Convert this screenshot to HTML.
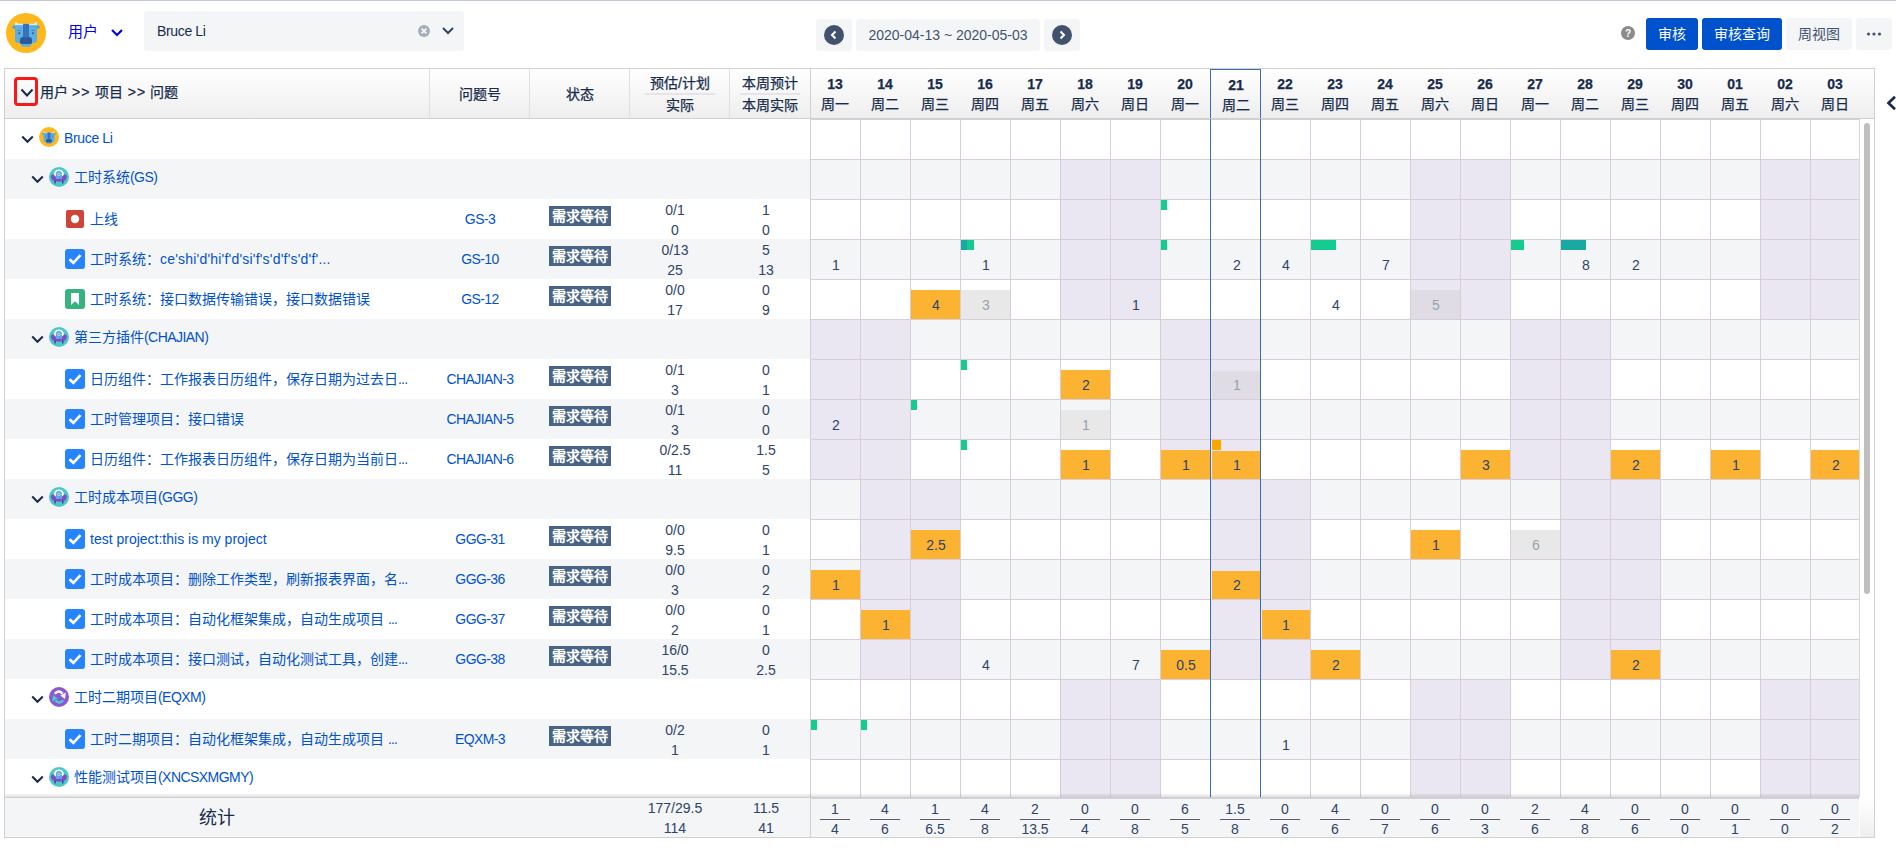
<!DOCTYPE html><html lang="zh-CN"><head><meta charset="utf-8"><style>
*{box-sizing:border-box}
body{margin:0;width:1896px;height:854px;overflow:hidden;background:#fff;font-family:"Liberation Sans",sans-serif;font-size:14px;color:#172B4D;position:relative}
.ab{position:absolute}
.t{position:absolute;white-space:nowrap;line-height:20px}
.c{text-align:center}
.hd{font-weight:500;color:#172B4D;-webkit-text-stroke:0.25px}
.lk{color:#0052CC}
.num{color:#2E4369}
</style></head><body>

<div class="ab" style="left:0;top:0;width:1896px;height:1px;background:#C1C7D0"></div>
<div class="ab" style="left:6px;top:13px;width:40px;height:40px"><svg width="40" height="40" viewBox="0 0 40 40"><circle cx="20" cy="20" r="20" fill="#FFB81C"/><path d="M9 8.5 L12.5 10.8 H27.5 L31 8.5 V12.8 H9 Z" fill="#D4ECF9"/><path d="M6 14.2 L7.5 12.6 H32.5 L34 14.2 L32.5 15.7 H7.5 Z" fill="#4A9FE0"/><path d="M9 12.6 H31 V27 Q31 30 28 30 H25 V32 Q25 33.7 23 33.7 H17 Q15 33.7 15 32 V30 H12 Q9 30 9 27 Z" fill="#5DAEE3"/><rect x="17" y="10.8" width="6" height="16" fill="#3673B8"/><circle cx="17.2" cy="27.3" r="3.2" fill="#2A5A9A"/><circle cx="22.8" cy="27.3" r="3.2" fill="#2A5A9A"/><path d="M14 27.3 H26 V29.5 Q26 31 24.5 31 H15.5 Q14 31 14 29.5 Z" fill="#2A5A9A"/><circle cx="13.3" cy="20.2" r="1" fill="#2A5A9A"/><circle cx="27" cy="20.2" r="1" fill="#2A5A9A"/><rect x="11.7" y="17" width="3" height="0.8" fill="#3A7BC0"/><rect x="25.6" y="17" width="3" height="0.8" fill="#3A7BC0"/></svg></div>
<div class="t" style="left:68px;top:22px;font-size:15px;color:#0000EE;line-height:20px">用户</div>
<svg class="ab" style="left:110px;top:28px" width="14" height="10" viewBox="0 0 14 10"><path d="M2 2 L7 7 L12 2" stroke="#0000EE" stroke-width="2.2" fill="none"/></svg>
<div class="ab" style="left:144px;top:11px;width:320px;height:40px;border-radius:3px;background:#F4F5F7"></div>
<div class="t" style="left:157px;top:21px;font-size:14px;letter-spacing:-0.35px;color:#172B4D">Bruce Li</div>
<svg class="ab" style="left:417px;top:24px" width="14" height="14" viewBox="0 0 14 14"><circle cx="7" cy="7" r="6" fill="#A5ADBA"/><path d="M4.6 4.6 L9.4 9.4 M9.4 4.6 L4.6 9.4" stroke="#F4F5F7" stroke-width="1.8"/></svg>
<svg class="ab" style="left:441px;top:26px" width="14" height="10" viewBox="0 0 14 10"><path d="M2 2 L7 7 L12 2" stroke="#344563" stroke-width="2" fill="none"/></svg>
<div class="ab" style="left:816px;top:19px;width:36px;height:32px;border-radius:3px;background:#F4F5F7"></div>
<svg class="ab" style="left:824px;top:25px" width="20" height="20" viewBox="0 0 20 20"><circle cx="10" cy="10" r="10" fill="#42526E"/><path d="M11.5 6.5 L8 10 L11.5 13.5" stroke="#fff" stroke-width="2" fill="none"/></svg>
<div class="ab" style="left:856px;top:19px;width:184px;height:32px;border-radius:3px;background:#F4F5F7"></div>
<div class="t" style="left:856px;width:184px;top:25px;text-align:center;font-size:14px;color:#42526E">2020-04-13 ~ 2020-05-03</div>
<div class="ab" style="left:1044px;top:19px;width:36px;height:32px;border-radius:3px;background:#F4F5F7"></div>
<svg class="ab" style="left:1052px;top:25px" width="20" height="20" viewBox="0 0 20 20"><circle cx="10" cy="10" r="10" fill="#42526E"/><path d="M8.5 6.5 L12 10 L8.5 13.5" stroke="#fff" stroke-width="2" fill="none"/></svg>
<svg class="ab" style="left:1621px;top:26px" width="14" height="14" viewBox="0 0 14 14"><circle cx="7" cy="7" r="7" fill="#8B8B8B"/><text x="7" y="11" font-size="10" font-weight="bold" text-anchor="middle" fill="#fff" font-family="Liberation Sans">?</text></svg>
<div class="ab" style="left:1646px;top:18px;width:52px;height:32px;border-radius:3px;background:#0052CC"></div>
<div class="t c" style="left:1646px;width:52px;top:24px;color:#fff;font-size:14px;font-weight:500">审核</div>
<div class="ab" style="left:1702px;top:18px;width:80px;height:32px;border-radius:3px;background:#0052CC"></div>
<div class="t c" style="left:1702px;width:80px;top:24px;color:#fff;font-size:14px;font-weight:500">审核查询</div>
<div class="ab" style="left:1786px;top:18px;width:66px;height:32px;border-radius:3px;background:#F4F5F7"></div>
<div class="t c" style="left:1786px;width:66px;top:24px;color:#42526E;font-size:14px">周视图</div>
<div class="ab" style="left:1856px;top:18px;width:36px;height:32px;border-radius:3px;background:#F4F5F7"></div>
<svg class="ab" style="left:1866px;top:32px" width="16" height="4" viewBox="0 0 16 4"><circle cx="2.5" cy="2" r="1.6" fill="#42526E"/><circle cx="8" cy="2" r="1.6" fill="#42526E"/><circle cx="13.5" cy="2" r="1.6" fill="#42526E"/></svg>
<div class="ab" style="left:4px;top:68px;width:1871px;height:770px;border:1px solid #D0D0D0"></div>
<div class="ab" style="left:5px;top:69px;width:1869px;height:49px;background:linear-gradient(#FFFFFF,#EEEEEE)"></div>
<div class="ab" style="left:5px;top:118px;width:1869px;height:1px;background:#D0D0D0"></div>
<div class="ab" style="left:5px;top:119px;width:805px;height:40px;background:#FFFFFF"></div>
<div class="ab" style="left:5px;top:159px;width:805px;height:40px;background:#F4F5F7"></div>
<div class="ab" style="left:5px;top:199px;width:805px;height:40px;background:#FFFFFF"></div>
<div class="ab" style="left:5px;top:239px;width:805px;height:40px;background:#F4F5F7"></div>
<div class="ab" style="left:5px;top:279px;width:805px;height:40px;background:#FFFFFF"></div>
<div class="ab" style="left:5px;top:319px;width:805px;height:40px;background:#F4F5F7"></div>
<div class="ab" style="left:5px;top:359px;width:805px;height:40px;background:#FFFFFF"></div>
<div class="ab" style="left:5px;top:399px;width:805px;height:40px;background:#F4F5F7"></div>
<div class="ab" style="left:5px;top:439px;width:805px;height:40px;background:#FFFFFF"></div>
<div class="ab" style="left:5px;top:479px;width:805px;height:40px;background:#F4F5F7"></div>
<div class="ab" style="left:5px;top:519px;width:805px;height:40px;background:#FFFFFF"></div>
<div class="ab" style="left:5px;top:559px;width:805px;height:40px;background:#F4F5F7"></div>
<div class="ab" style="left:5px;top:599px;width:805px;height:40px;background:#FFFFFF"></div>
<div class="ab" style="left:5px;top:639px;width:805px;height:40px;background:#F4F5F7"></div>
<div class="ab" style="left:5px;top:679px;width:805px;height:40px;background:#FFFFFF"></div>
<div class="ab" style="left:5px;top:719px;width:805px;height:40px;background:#F4F5F7"></div>
<div class="ab" style="left:5px;top:759px;width:805px;height:38px;background:#FFFFFF"></div>
<div class="ab" style="left:429px;top:69px;width:1px;height:49px;background:#DFDDE8"></div>
<div class="ab" style="left:529px;top:69px;width:1px;height:49px;background:#DFDDE8"></div>
<div class="ab" style="left:629px;top:69px;width:1px;height:49px;background:#DFDDE8"></div>
<div class="ab" style="left:729px;top:69px;width:1px;height:49px;background:#DFDDE8"></div>
<div class="ab" style="left:810px;top:69px;width:1px;height:768px;background:#D0D0D0"></div>
<div class="ab" style="left:14px;top:77px;width:24px;height:29px;border:3px solid #F81A1A;border-radius:4px"></div>
<svg class="ab" style="left:20px;top:88px" width="14" height="10" viewBox="0 0 14 10"><path d="M1.5 1.5 L7 7.5 L12.5 1.5" stroke="#172B4D" stroke-width="2" fill="none"/></svg>
<div class="t hd" style="left:40px;top:82px">用户 <span style="font-weight:normal;letter-spacing:1.3px">&gt;&gt;</span> 项目 <span style="font-weight:normal;letter-spacing:1.3px;margin-left:1px">&gt;&gt;</span> 问题</div>
<div class="t hd c" style="left:430px;width:100px;top:84px">问题号</div>
<div class="t hd c" style="left:530px;width:100px;top:84px">状态</div>
<div class="t hd c" style="left:630px;width:100px;top:73px">预估/计划</div>
<div class="ab" style="left:645px;top:93px;width:70px;height:2px;background:#E4E4EA"></div>
<div class="t hd c" style="left:630px;width:100px;top:95px">实际</div>
<div class="t hd c" style="left:730px;width:80px;top:73px">本周预计</div>
<div class="ab" style="left:740px;top:93px;width:60px;height:2px;background:#E4E4EA"></div>
<div class="t hd c" style="left:730px;width:80px;top:95px">本周实际</div>
<div class="t hd c" style="left:810px;width:50px;top:74px;font-size:14px;font-weight:bold">13</div>
<div class="t hd c" style="left:810px;width:50px;top:94px">周一</div>
<div class="t hd c" style="left:860px;width:50px;top:74px;font-size:14px;font-weight:bold">14</div>
<div class="t hd c" style="left:860px;width:50px;top:94px">周二</div>
<div class="t hd c" style="left:910px;width:50px;top:74px;font-size:14px;font-weight:bold">15</div>
<div class="t hd c" style="left:910px;width:50px;top:94px">周三</div>
<div class="t hd c" style="left:960px;width:50px;top:74px;font-size:14px;font-weight:bold">16</div>
<div class="t hd c" style="left:960px;width:50px;top:94px">周四</div>
<div class="t hd c" style="left:1010px;width:50px;top:74px;font-size:14px;font-weight:bold">17</div>
<div class="t hd c" style="left:1010px;width:50px;top:94px">周五</div>
<div class="t hd c" style="left:1060px;width:50px;top:74px;font-size:14px;font-weight:bold">18</div>
<div class="t hd c" style="left:1060px;width:50px;top:94px">周六</div>
<div class="t hd c" style="left:1110px;width:50px;top:74px;font-size:14px;font-weight:bold">19</div>
<div class="t hd c" style="left:1110px;width:50px;top:94px">周日</div>
<div class="t hd c" style="left:1160px;width:50px;top:74px;font-size:14px;font-weight:bold">20</div>
<div class="t hd c" style="left:1160px;width:50px;top:94px">周一</div>
<div class="t hd c" style="left:1211px;width:50px;top:75px;font-size:14px;font-weight:bold">21</div>
<div class="t hd c" style="left:1211px;width:50px;top:95px">周二</div>
<div class="t hd c" style="left:1260px;width:50px;top:74px;font-size:14px;font-weight:bold">22</div>
<div class="t hd c" style="left:1260px;width:50px;top:94px">周三</div>
<div class="t hd c" style="left:1310px;width:50px;top:74px;font-size:14px;font-weight:bold">23</div>
<div class="t hd c" style="left:1310px;width:50px;top:94px">周四</div>
<div class="t hd c" style="left:1360px;width:50px;top:74px;font-size:14px;font-weight:bold">24</div>
<div class="t hd c" style="left:1360px;width:50px;top:94px">周五</div>
<div class="t hd c" style="left:1410px;width:50px;top:74px;font-size:14px;font-weight:bold">25</div>
<div class="t hd c" style="left:1410px;width:50px;top:94px">周六</div>
<div class="t hd c" style="left:1460px;width:50px;top:74px;font-size:14px;font-weight:bold">26</div>
<div class="t hd c" style="left:1460px;width:50px;top:94px">周日</div>
<div class="t hd c" style="left:1510px;width:50px;top:74px;font-size:14px;font-weight:bold">27</div>
<div class="t hd c" style="left:1510px;width:50px;top:94px">周一</div>
<div class="t hd c" style="left:1560px;width:50px;top:74px;font-size:14px;font-weight:bold">28</div>
<div class="t hd c" style="left:1560px;width:50px;top:94px">周二</div>
<div class="t hd c" style="left:1610px;width:50px;top:74px;font-size:14px;font-weight:bold">29</div>
<div class="t hd c" style="left:1610px;width:50px;top:94px">周三</div>
<div class="t hd c" style="left:1660px;width:50px;top:74px;font-size:14px;font-weight:bold">30</div>
<div class="t hd c" style="left:1660px;width:50px;top:94px">周四</div>
<div class="t hd c" style="left:1710px;width:50px;top:74px;font-size:14px;font-weight:bold">01</div>
<div class="t hd c" style="left:1710px;width:50px;top:94px">周五</div>
<div class="t hd c" style="left:1760px;width:50px;top:74px;font-size:14px;font-weight:bold">02</div>
<div class="t hd c" style="left:1760px;width:50px;top:94px">周六</div>
<div class="t hd c" style="left:1810px;width:50px;top:74px;font-size:14px;font-weight:bold">03</div>
<div class="t hd c" style="left:1810px;width:50px;top:94px">周日</div>
<svg class="ab" style="left:1885px;top:95px" width="12" height="16" viewBox="0 0 12 16"><path d="M10 1.8 L3.5 8 L10 14.2" stroke="#172B4D" stroke-width="2.7" fill="none"/></svg>
<div class="ab" style="left:811px;top:119px;width:1048px;height:678px;overflow:hidden">
<div class="ab" style="left:0;top:0px;width:1048px;height:40px;background:#FFFFFF"></div>
<div class="ab" style="left:0;top:40px;width:1048px;height:40px;background:#F4F5F7"></div>
<div class="ab" style="left:949px;top:40px;width:50px;height:40px;background:#EAE6F2"></div>
<div class="ab" style="left:999px;top:40px;width:50px;height:40px;background:#EAE6F2"></div>
<div class="ab" style="left:249px;top:40px;width:50px;height:40px;background:#EAE6F2"></div>
<div class="ab" style="left:299px;top:40px;width:50px;height:40px;background:#EAE6F2"></div>
<div class="ab" style="left:599px;top:40px;width:50px;height:40px;background:#EAE6F2"></div>
<div class="ab" style="left:649px;top:40px;width:50px;height:40px;background:#EAE6F2"></div>
<div class="ab" style="left:0;top:80px;width:1048px;height:40px;background:#FFFFFF"></div>
<div class="ab" style="left:949px;top:80px;width:50px;height:40px;background:#EAE6F2"></div>
<div class="ab" style="left:999px;top:80px;width:50px;height:40px;background:#EAE6F2"></div>
<div class="ab" style="left:249px;top:80px;width:50px;height:40px;background:#EAE6F2"></div>
<div class="ab" style="left:299px;top:80px;width:50px;height:40px;background:#EAE6F2"></div>
<div class="ab" style="left:599px;top:80px;width:50px;height:40px;background:#EAE6F2"></div>
<div class="ab" style="left:649px;top:80px;width:50px;height:40px;background:#EAE6F2"></div>
<div class="ab" style="left:0;top:120px;width:1048px;height:40px;background:#F4F5F7"></div>
<div class="ab" style="left:949px;top:120px;width:50px;height:40px;background:#EAE6F2"></div>
<div class="ab" style="left:999px;top:120px;width:50px;height:40px;background:#EAE6F2"></div>
<div class="ab" style="left:249px;top:120px;width:50px;height:40px;background:#EAE6F2"></div>
<div class="ab" style="left:299px;top:120px;width:50px;height:40px;background:#EAE6F2"></div>
<div class="ab" style="left:599px;top:120px;width:50px;height:40px;background:#EAE6F2"></div>
<div class="ab" style="left:649px;top:120px;width:50px;height:40px;background:#EAE6F2"></div>
<div class="ab" style="left:0;top:160px;width:1048px;height:40px;background:#FFFFFF"></div>
<div class="ab" style="left:949px;top:160px;width:50px;height:40px;background:#EAE6F2"></div>
<div class="ab" style="left:999px;top:160px;width:50px;height:40px;background:#EAE6F2"></div>
<div class="ab" style="left:249px;top:160px;width:50px;height:40px;background:#EAE6F2"></div>
<div class="ab" style="left:299px;top:160px;width:50px;height:40px;background:#EAE6F2"></div>
<div class="ab" style="left:599px;top:160px;width:50px;height:40px;background:#EAE6F2"></div>
<div class="ab" style="left:649px;top:160px;width:50px;height:40px;background:#EAE6F2"></div>
<div class="ab" style="left:0;top:200px;width:1048px;height:40px;background:#F4F5F7"></div>
<div class="ab" style="left:-1px;top:200px;width:50px;height:40px;background:#EAE6F2"></div>
<div class="ab" style="left:49px;top:200px;width:50px;height:40px;background:#EAE6F2"></div>
<div class="ab" style="left:349px;top:200px;width:50px;height:40px;background:#EAE6F2"></div>
<div class="ab" style="left:399px;top:200px;width:50px;height:40px;background:#EAE6F2"></div>
<div class="ab" style="left:699px;top:200px;width:50px;height:40px;background:#EAE6F2"></div>
<div class="ab" style="left:749px;top:200px;width:50px;height:40px;background:#EAE6F2"></div>
<div class="ab" style="left:0;top:240px;width:1048px;height:40px;background:#FFFFFF"></div>
<div class="ab" style="left:-1px;top:240px;width:50px;height:40px;background:#EAE6F2"></div>
<div class="ab" style="left:49px;top:240px;width:50px;height:40px;background:#EAE6F2"></div>
<div class="ab" style="left:349px;top:240px;width:50px;height:40px;background:#EAE6F2"></div>
<div class="ab" style="left:399px;top:240px;width:50px;height:40px;background:#EAE6F2"></div>
<div class="ab" style="left:699px;top:240px;width:50px;height:40px;background:#EAE6F2"></div>
<div class="ab" style="left:749px;top:240px;width:50px;height:40px;background:#EAE6F2"></div>
<div class="ab" style="left:0;top:280px;width:1048px;height:40px;background:#F4F5F7"></div>
<div class="ab" style="left:-1px;top:280px;width:50px;height:40px;background:#EAE6F2"></div>
<div class="ab" style="left:49px;top:280px;width:50px;height:40px;background:#EAE6F2"></div>
<div class="ab" style="left:349px;top:280px;width:50px;height:40px;background:#EAE6F2"></div>
<div class="ab" style="left:399px;top:280px;width:50px;height:40px;background:#EAE6F2"></div>
<div class="ab" style="left:699px;top:280px;width:50px;height:40px;background:#EAE6F2"></div>
<div class="ab" style="left:749px;top:280px;width:50px;height:40px;background:#EAE6F2"></div>
<div class="ab" style="left:0;top:320px;width:1048px;height:40px;background:#FFFFFF"></div>
<div class="ab" style="left:-1px;top:320px;width:50px;height:40px;background:#EAE6F2"></div>
<div class="ab" style="left:49px;top:320px;width:50px;height:40px;background:#EAE6F2"></div>
<div class="ab" style="left:349px;top:320px;width:50px;height:40px;background:#EAE6F2"></div>
<div class="ab" style="left:399px;top:320px;width:50px;height:40px;background:#EAE6F2"></div>
<div class="ab" style="left:699px;top:320px;width:50px;height:40px;background:#EAE6F2"></div>
<div class="ab" style="left:749px;top:320px;width:50px;height:40px;background:#EAE6F2"></div>
<div class="ab" style="left:0;top:360px;width:1048px;height:40px;background:#F4F5F7"></div>
<div class="ab" style="left:799px;top:360px;width:50px;height:40px;background:#EAE6F2"></div>
<div class="ab" style="left:49px;top:360px;width:50px;height:40px;background:#EAE6F2"></div>
<div class="ab" style="left:99px;top:360px;width:50px;height:40px;background:#EAE6F2"></div>
<div class="ab" style="left:399px;top:360px;width:50px;height:40px;background:#EAE6F2"></div>
<div class="ab" style="left:449px;top:360px;width:50px;height:40px;background:#EAE6F2"></div>
<div class="ab" style="left:749px;top:360px;width:50px;height:40px;background:#EAE6F2"></div>
<div class="ab" style="left:0;top:400px;width:1048px;height:40px;background:#FFFFFF"></div>
<div class="ab" style="left:799px;top:400px;width:50px;height:40px;background:#EAE6F2"></div>
<div class="ab" style="left:49px;top:400px;width:50px;height:40px;background:#EAE6F2"></div>
<div class="ab" style="left:99px;top:400px;width:50px;height:40px;background:#EAE6F2"></div>
<div class="ab" style="left:399px;top:400px;width:50px;height:40px;background:#EAE6F2"></div>
<div class="ab" style="left:449px;top:400px;width:50px;height:40px;background:#EAE6F2"></div>
<div class="ab" style="left:749px;top:400px;width:50px;height:40px;background:#EAE6F2"></div>
<div class="ab" style="left:0;top:440px;width:1048px;height:40px;background:#F4F5F7"></div>
<div class="ab" style="left:799px;top:440px;width:50px;height:40px;background:#EAE6F2"></div>
<div class="ab" style="left:49px;top:440px;width:50px;height:40px;background:#EAE6F2"></div>
<div class="ab" style="left:99px;top:440px;width:50px;height:40px;background:#EAE6F2"></div>
<div class="ab" style="left:399px;top:440px;width:50px;height:40px;background:#EAE6F2"></div>
<div class="ab" style="left:449px;top:440px;width:50px;height:40px;background:#EAE6F2"></div>
<div class="ab" style="left:749px;top:440px;width:50px;height:40px;background:#EAE6F2"></div>
<div class="ab" style="left:0;top:480px;width:1048px;height:40px;background:#FFFFFF"></div>
<div class="ab" style="left:799px;top:480px;width:50px;height:40px;background:#EAE6F2"></div>
<div class="ab" style="left:49px;top:480px;width:50px;height:40px;background:#EAE6F2"></div>
<div class="ab" style="left:99px;top:480px;width:50px;height:40px;background:#EAE6F2"></div>
<div class="ab" style="left:399px;top:480px;width:50px;height:40px;background:#EAE6F2"></div>
<div class="ab" style="left:449px;top:480px;width:50px;height:40px;background:#EAE6F2"></div>
<div class="ab" style="left:749px;top:480px;width:50px;height:40px;background:#EAE6F2"></div>
<div class="ab" style="left:0;top:520px;width:1048px;height:40px;background:#F4F5F7"></div>
<div class="ab" style="left:799px;top:520px;width:50px;height:40px;background:#EAE6F2"></div>
<div class="ab" style="left:49px;top:520px;width:50px;height:40px;background:#EAE6F2"></div>
<div class="ab" style="left:99px;top:520px;width:50px;height:40px;background:#EAE6F2"></div>
<div class="ab" style="left:399px;top:520px;width:50px;height:40px;background:#EAE6F2"></div>
<div class="ab" style="left:449px;top:520px;width:50px;height:40px;background:#EAE6F2"></div>
<div class="ab" style="left:749px;top:520px;width:50px;height:40px;background:#EAE6F2"></div>
<div class="ab" style="left:0;top:560px;width:1048px;height:40px;background:#FFFFFF"></div>
<div class="ab" style="left:949px;top:560px;width:50px;height:40px;background:#EAE6F2"></div>
<div class="ab" style="left:999px;top:560px;width:50px;height:40px;background:#EAE6F2"></div>
<div class="ab" style="left:249px;top:560px;width:50px;height:40px;background:#EAE6F2"></div>
<div class="ab" style="left:299px;top:560px;width:50px;height:40px;background:#EAE6F2"></div>
<div class="ab" style="left:599px;top:560px;width:50px;height:40px;background:#EAE6F2"></div>
<div class="ab" style="left:649px;top:560px;width:50px;height:40px;background:#EAE6F2"></div>
<div class="ab" style="left:0;top:600px;width:1048px;height:40px;background:#F4F5F7"></div>
<div class="ab" style="left:949px;top:600px;width:50px;height:40px;background:#EAE6F2"></div>
<div class="ab" style="left:999px;top:600px;width:50px;height:40px;background:#EAE6F2"></div>
<div class="ab" style="left:249px;top:600px;width:50px;height:40px;background:#EAE6F2"></div>
<div class="ab" style="left:299px;top:600px;width:50px;height:40px;background:#EAE6F2"></div>
<div class="ab" style="left:599px;top:600px;width:50px;height:40px;background:#EAE6F2"></div>
<div class="ab" style="left:649px;top:600px;width:50px;height:40px;background:#EAE6F2"></div>
<div class="ab" style="left:0;top:640px;width:1048px;height:40px;background:#FFFFFF"></div>
<div class="ab" style="left:949px;top:640px;width:50px;height:40px;background:#EAE6F2"></div>
<div class="ab" style="left:999px;top:640px;width:50px;height:40px;background:#EAE6F2"></div>
<div class="ab" style="left:249px;top:640px;width:50px;height:40px;background:#EAE6F2"></div>
<div class="ab" style="left:299px;top:640px;width:50px;height:40px;background:#EAE6F2"></div>
<div class="ab" style="left:599px;top:640px;width:50px;height:40px;background:#EAE6F2"></div>
<div class="ab" style="left:649px;top:640px;width:50px;height:40px;background:#EAE6F2"></div>
<div class="ab" style="left:0;top:0px;width:1048px;height:1px;background:#D8CDDB"></div>
<div class="ab" style="left:0;top:40px;width:1048px;height:1px;background:#D8CDDB"></div>
<div class="ab" style="left:0;top:80px;width:1048px;height:1px;background:#D8CDDB"></div>
<div class="ab" style="left:0;top:120px;width:1048px;height:1px;background:#D8CDDB"></div>
<div class="ab" style="left:0;top:160px;width:1048px;height:1px;background:#D8CDDB"></div>
<div class="ab" style="left:0;top:200px;width:1048px;height:1px;background:#D8CDDB"></div>
<div class="ab" style="left:0;top:240px;width:1048px;height:1px;background:#D8CDDB"></div>
<div class="ab" style="left:0;top:280px;width:1048px;height:1px;background:#D8CDDB"></div>
<div class="ab" style="left:0;top:320px;width:1048px;height:1px;background:#D8CDDB"></div>
<div class="ab" style="left:0;top:360px;width:1048px;height:1px;background:#D8CDDB"></div>
<div class="ab" style="left:0;top:400px;width:1048px;height:1px;background:#D8CDDB"></div>
<div class="ab" style="left:0;top:440px;width:1048px;height:1px;background:#D8CDDB"></div>
<div class="ab" style="left:0;top:480px;width:1048px;height:1px;background:#D8CDDB"></div>
<div class="ab" style="left:0;top:520px;width:1048px;height:1px;background:#D8CDDB"></div>
<div class="ab" style="left:0;top:560px;width:1048px;height:1px;background:#D8CDDB"></div>
<div class="ab" style="left:0;top:600px;width:1048px;height:1px;background:#D8CDDB"></div>
<div class="ab" style="left:0;top:640px;width:1048px;height:1px;background:#D8CDDB"></div>
<div class="ab" style="left:49px;top:0;width:1px;height:678px;background:#D8CDDB"></div>
<div class="ab" style="left:99px;top:0;width:1px;height:678px;background:#D8CDDB"></div>
<div class="ab" style="left:149px;top:0;width:1px;height:678px;background:#D8CDDB"></div>
<div class="ab" style="left:199px;top:0;width:1px;height:678px;background:#D8CDDB"></div>
<div class="ab" style="left:249px;top:0;width:1px;height:678px;background:#D8CDDB"></div>
<div class="ab" style="left:299px;top:0;width:1px;height:678px;background:#D8CDDB"></div>
<div class="ab" style="left:349px;top:0;width:1px;height:678px;background:#D8CDDB"></div>
<div class="ab" style="left:399px;top:0;width:1px;height:678px;background:#D8CDDB"></div>
<div class="ab" style="left:449px;top:0;width:1px;height:678px;background:#D8CDDB"></div>
<div class="ab" style="left:499px;top:0;width:1px;height:678px;background:#D8CDDB"></div>
<div class="ab" style="left:549px;top:0;width:1px;height:678px;background:#D8CDDB"></div>
<div class="ab" style="left:599px;top:0;width:1px;height:678px;background:#D8CDDB"></div>
<div class="ab" style="left:649px;top:0;width:1px;height:678px;background:#D8CDDB"></div>
<div class="ab" style="left:699px;top:0;width:1px;height:678px;background:#D8CDDB"></div>
<div class="ab" style="left:749px;top:0;width:1px;height:678px;background:#D8CDDB"></div>
<div class="ab" style="left:799px;top:0;width:1px;height:678px;background:#D8CDDB"></div>
<div class="ab" style="left:849px;top:0;width:1px;height:678px;background:#D8CDDB"></div>
<div class="ab" style="left:899px;top:0;width:1px;height:678px;background:#D8CDDB"></div>
<div class="ab" style="left:949px;top:0;width:1px;height:678px;background:#D8CDDB"></div>
<div class="ab" style="left:999px;top:0;width:1px;height:678px;background:#D8CDDB"></div>
</div>
<div class="t c" style="left:811px;top:255px;width:50px;color:#2E4369">1</div>
<div class="t c" style="left:961px;top:255px;width:50px;color:#2E4369">1</div>
<div class="t c" style="left:1212px;top:255px;width:50px;color:#2E4369">2</div>
<div class="t c" style="left:1261px;top:255px;width:50px;color:#2E4369">4</div>
<div class="t c" style="left:1361px;top:255px;width:50px;color:#2E4369">7</div>
<div class="t c" style="left:1561px;top:255px;width:50px;color:#2E4369">8</div>
<div class="t c" style="left:1611px;top:255px;width:50px;color:#2E4369">2</div>
<div class="ab" style="left:911px;top:290px;width:49px;height:29px;background:#FCB332"></div>
<div class="t c" style="left:911px;top:295px;width:50px;color:#2E4369">4</div>
<div class="ab" style="left:961px;top:290px;width:49px;height:29px;background:#E8E8E8"></div>
<div class="t c" style="left:961px;top:295px;width:50px;color:#97A0AF">3</div>
<div class="t c" style="left:1111px;top:295px;width:50px;color:#2E4369">1</div>
<div class="t c" style="left:1311px;top:295px;width:50px;color:#2E4369">4</div>
<div class="ab" style="left:1411px;top:290px;width:49px;height:29px;background:#DFDDE3"></div>
<div class="t c" style="left:1411px;top:295px;width:50px;color:#97A0AF">5</div>
<div class="ab" style="left:1061px;top:370px;width:49px;height:29px;background:#FCB332"></div>
<div class="t c" style="left:1061px;top:375px;width:50px;color:#2E4369">2</div>
<div class="ab" style="left:1212px;top:371px;width:48px;height:28px;background:#DFDDE3"></div>
<div class="t c" style="left:1212px;top:375px;width:50px;color:#97A0AF">1</div>
<div class="t c" style="left:811px;top:415px;width:50px;color:#2E4369">2</div>
<div class="ab" style="left:1061px;top:410px;width:49px;height:29px;background:#E8E8E8"></div>
<div class="t c" style="left:1061px;top:415px;width:50px;color:#97A0AF">1</div>
<div class="ab" style="left:1061px;top:450px;width:49px;height:29px;background:#FCB332"></div>
<div class="t c" style="left:1061px;top:455px;width:50px;color:#2E4369">1</div>
<div class="ab" style="left:1161px;top:450px;width:49px;height:29px;background:#FCB332"></div>
<div class="t c" style="left:1161px;top:455px;width:50px;color:#2E4369">1</div>
<div class="ab" style="left:1212px;top:451px;width:48px;height:28px;background:#FCB332"></div>
<div class="t c" style="left:1212px;top:455px;width:50px;color:#2E4369">1</div>
<div class="ab" style="left:1461px;top:450px;width:49px;height:29px;background:#FCB332"></div>
<div class="t c" style="left:1461px;top:455px;width:50px;color:#2E4369">3</div>
<div class="ab" style="left:1611px;top:450px;width:49px;height:29px;background:#FCB332"></div>
<div class="t c" style="left:1611px;top:455px;width:50px;color:#2E4369">2</div>
<div class="ab" style="left:1711px;top:450px;width:49px;height:29px;background:#FCB332"></div>
<div class="t c" style="left:1711px;top:455px;width:50px;color:#2E4369">1</div>
<div class="ab" style="left:1811px;top:450px;width:48px;height:29px;background:#FCB332"></div>
<div class="t c" style="left:1811px;top:455px;width:50px;color:#2E4369">2</div>
<div class="ab" style="left:911px;top:530px;width:49px;height:29px;background:#FCB332"></div>
<div class="t c" style="left:911px;top:535px;width:50px;color:#2E4369">2.5</div>
<div class="ab" style="left:1411px;top:530px;width:49px;height:29px;background:#FCB332"></div>
<div class="t c" style="left:1411px;top:535px;width:50px;color:#2E4369">1</div>
<div class="ab" style="left:1511px;top:530px;width:49px;height:29px;background:#E8E8E8"></div>
<div class="t c" style="left:1511px;top:535px;width:50px;color:#97A0AF">6</div>
<div class="ab" style="left:811px;top:570px;width:49px;height:29px;background:#FCB332"></div>
<div class="t c" style="left:811px;top:575px;width:50px;color:#2E4369">1</div>
<div class="ab" style="left:1212px;top:571px;width:48px;height:28px;background:#FCB332"></div>
<div class="t c" style="left:1212px;top:575px;width:50px;color:#2E4369">2</div>
<div class="ab" style="left:861px;top:610px;width:49px;height:29px;background:#FCB332"></div>
<div class="t c" style="left:861px;top:615px;width:50px;color:#2E4369">1</div>
<div class="ab" style="left:1262px;top:610px;width:48px;height:29px;background:#FCB332"></div>
<div class="t c" style="left:1261px;top:615px;width:50px;color:#2E4369">1</div>
<div class="t c" style="left:961px;top:655px;width:50px;color:#2E4369">4</div>
<div class="t c" style="left:1111px;top:655px;width:50px;color:#2E4369">7</div>
<div class="ab" style="left:1161px;top:650px;width:49px;height:29px;background:#FCB332"></div>
<div class="t c" style="left:1161px;top:655px;width:50px;color:#2E4369">0.5</div>
<div class="ab" style="left:1311px;top:650px;width:49px;height:29px;background:#FCB332"></div>
<div class="t c" style="left:1311px;top:655px;width:50px;color:#2E4369">2</div>
<div class="ab" style="left:1611px;top:650px;width:49px;height:29px;background:#FCB332"></div>
<div class="t c" style="left:1611px;top:655px;width:50px;color:#2E4369">2</div>
<div class="t c" style="left:1261px;top:735px;width:50px;color:#2E4369">1</div>
<div class="ab" style="left:1161px;top:200px;width:6px;height:10px;background:#14CC8F"></div>
<div class="ab" style="left:961px;top:240px;width:6px;height:10px;background:#1AA8A2"></div>
<div class="ab" style="left:967px;top:240px;width:7px;height:10px;background:#14CC8F"></div>
<div class="ab" style="left:1161px;top:240px;width:6px;height:10px;background:#14CC8F"></div>
<div class="ab" style="left:1311px;top:240px;width:25px;height:10px;background:#14CC8F"></div>
<div class="ab" style="left:1511px;top:240px;width:13px;height:10px;background:#14CC8F"></div>
<div class="ab" style="left:1561px;top:240px;width:25px;height:10px;background:#1AA8A2"></div>
<div class="ab" style="left:961px;top:360px;width:6px;height:10px;background:#14CC8F"></div>
<div class="ab" style="left:911px;top:400px;width:6px;height:10px;background:#14CC8F"></div>
<div class="ab" style="left:961px;top:440px;width:6px;height:10px;background:#14CC8F"></div>
<div class="ab" style="left:1212px;top:440px;width:9px;height:10px;background:#FFA500"></div>
<div class="ab" style="left:811px;top:720px;width:6px;height:10px;background:#14CC8F"></div>
<div class="ab" style="left:861px;top:720px;width:6px;height:10px;background:#14CC8F"></div>
<div class="ab" style="left:1210px;top:69px;width:1px;height:728px;background:#3A6DB4"></div>
<div class="ab" style="left:1260px;top:69px;width:1px;height:728px;background:#3A6DB4"></div>
<div class="ab" style="left:1210px;top:69px;width:51px;height:1px;background:#3A6DB4"></div>
<div class="ab" style="left:1210px;top:118px;width:51px;height:1px;background:#D0D0D0"></div>
<div class="ab" style="left:1859px;top:119px;width:1px;height:678px;background:#D8D8D8"></div>
<div class="ab" style="left:1864px;top:123px;width:6px;height:471px;border-radius:3px;background:#BFBFBF"></div>
<div class="ab" style="left:5px;top:793px;width:1854px;height:4px;background:linear-gradient(rgba(0,0,0,0),rgba(0,0,0,0.12))"></div>
<div class="ab" style="left:5px;top:797px;width:1854px;height:1px;background:#D0D0D0"></div>
<div class="ab" style="left:5px;top:798px;width:805px;height:39px;background:#F4F5F7"></div>
<div class="ab" style="left:811px;top:798px;width:1048px;height:39px;background:#F4F5F7"></div>
<div class="ab" style="left:811px;top:798px;width:1048px;height:1px;background:#D8CDDB"></div>
<div class="ab" style="left:1860px;top:798px;width:14px;height:39px;background:linear-gradient(#FFFFFF,#EEEEEE)"></div>
<div class="t c" style="left:117px;width:200px;top:808px;font-size:18px;color:#172B4D">统计</div>
<div class="t c num" style="left:625px;width:100px;top:798px">177/29.5</div>
<div class="t c num" style="left:625px;width:100px;top:818px">114</div>
<div class="t c num" style="left:726px;width:80px;top:798px">11.5</div>
<div class="t c num" style="left:726px;width:80px;top:818px">41</div>
<div class="t c num" style="left:810px;width:50px;top:799px">1</div>
<div class="ab" style="left:820px;top:819px;width:30px;height:1px;background:#5E5A6E"></div>
<div class="t c num" style="left:810px;width:50px;top:819px">4</div>
<div class="t c num" style="left:860px;width:50px;top:799px">4</div>
<div class="ab" style="left:870px;top:819px;width:30px;height:1px;background:#5E5A6E"></div>
<div class="t c num" style="left:860px;width:50px;top:819px">6</div>
<div class="t c num" style="left:910px;width:50px;top:799px">1</div>
<div class="ab" style="left:920px;top:819px;width:30px;height:1px;background:#5E5A6E"></div>
<div class="t c num" style="left:910px;width:50px;top:819px">6.5</div>
<div class="t c num" style="left:960px;width:50px;top:799px">4</div>
<div class="ab" style="left:970px;top:819px;width:30px;height:1px;background:#5E5A6E"></div>
<div class="t c num" style="left:960px;width:50px;top:819px">8</div>
<div class="t c num" style="left:1010px;width:50px;top:799px">2</div>
<div class="ab" style="left:1020px;top:819px;width:30px;height:1px;background:#5E5A6E"></div>
<div class="t c num" style="left:1010px;width:50px;top:819px">13.5</div>
<div class="t c num" style="left:1060px;width:50px;top:799px">0</div>
<div class="ab" style="left:1070px;top:819px;width:30px;height:1px;background:#5E5A6E"></div>
<div class="t c num" style="left:1060px;width:50px;top:819px">4</div>
<div class="t c num" style="left:1110px;width:50px;top:799px">0</div>
<div class="ab" style="left:1120px;top:819px;width:30px;height:1px;background:#5E5A6E"></div>
<div class="t c num" style="left:1110px;width:50px;top:819px">8</div>
<div class="t c num" style="left:1160px;width:50px;top:799px">6</div>
<div class="ab" style="left:1170px;top:819px;width:30px;height:1px;background:#5E5A6E"></div>
<div class="t c num" style="left:1160px;width:50px;top:819px">5</div>
<div class="t c num" style="left:1210px;width:50px;top:799px">1.5</div>
<div class="ab" style="left:1220px;top:819px;width:30px;height:1px;background:#5E5A6E"></div>
<div class="t c num" style="left:1210px;width:50px;top:819px">8</div>
<div class="t c num" style="left:1260px;width:50px;top:799px">0</div>
<div class="ab" style="left:1270px;top:819px;width:30px;height:1px;background:#5E5A6E"></div>
<div class="t c num" style="left:1260px;width:50px;top:819px">6</div>
<div class="t c num" style="left:1310px;width:50px;top:799px">4</div>
<div class="ab" style="left:1320px;top:819px;width:30px;height:1px;background:#5E5A6E"></div>
<div class="t c num" style="left:1310px;width:50px;top:819px">6</div>
<div class="t c num" style="left:1360px;width:50px;top:799px">0</div>
<div class="ab" style="left:1370px;top:819px;width:30px;height:1px;background:#5E5A6E"></div>
<div class="t c num" style="left:1360px;width:50px;top:819px">7</div>
<div class="t c num" style="left:1410px;width:50px;top:799px">0</div>
<div class="ab" style="left:1420px;top:819px;width:30px;height:1px;background:#5E5A6E"></div>
<div class="t c num" style="left:1410px;width:50px;top:819px">6</div>
<div class="t c num" style="left:1460px;width:50px;top:799px">0</div>
<div class="ab" style="left:1470px;top:819px;width:30px;height:1px;background:#5E5A6E"></div>
<div class="t c num" style="left:1460px;width:50px;top:819px">3</div>
<div class="t c num" style="left:1510px;width:50px;top:799px">2</div>
<div class="ab" style="left:1520px;top:819px;width:30px;height:1px;background:#5E5A6E"></div>
<div class="t c num" style="left:1510px;width:50px;top:819px">6</div>
<div class="t c num" style="left:1560px;width:50px;top:799px">4</div>
<div class="ab" style="left:1570px;top:819px;width:30px;height:1px;background:#5E5A6E"></div>
<div class="t c num" style="left:1560px;width:50px;top:819px">8</div>
<div class="t c num" style="left:1610px;width:50px;top:799px">0</div>
<div class="ab" style="left:1620px;top:819px;width:30px;height:1px;background:#5E5A6E"></div>
<div class="t c num" style="left:1610px;width:50px;top:819px">6</div>
<div class="t c num" style="left:1660px;width:50px;top:799px">0</div>
<div class="ab" style="left:1670px;top:819px;width:30px;height:1px;background:#5E5A6E"></div>
<div class="t c num" style="left:1660px;width:50px;top:819px">0</div>
<div class="t c num" style="left:1710px;width:50px;top:799px">0</div>
<div class="ab" style="left:1720px;top:819px;width:30px;height:1px;background:#5E5A6E"></div>
<div class="t c num" style="left:1710px;width:50px;top:819px">1</div>
<div class="t c num" style="left:1760px;width:50px;top:799px">0</div>
<div class="ab" style="left:1770px;top:819px;width:30px;height:1px;background:#5E5A6E"></div>
<div class="t c num" style="left:1760px;width:50px;top:819px">0</div>
<div class="t c num" style="left:1810px;width:50px;top:799px">0</div>
<div class="ab" style="left:1820px;top:819px;width:30px;height:1px;background:#5E5A6E"></div>
<div class="t c num" style="left:1810px;width:50px;top:819px">2</div>
<div class="ab" style="left:5px;top:119px;width:805px;height:678px;overflow:hidden">
<svg class="ab" style="left:16px;top:16px" width="13" height="9" viewBox="0 0 13 9"><path d="M1.2 1.5 L6.5 6.8 L11.8 1.5" stroke="#172B4D" stroke-width="2" fill="none"/></svg>
<div class="ab" style="left:34px;top:8px;width:20px;height:20px"><svg width="20" height="20" viewBox="0 0 40 40"><circle cx="20" cy="20" r="20" fill="#FFB81C"/><path d="M9 8.5 L12.5 10.8 H27.5 L31 8.5 V12.8 H9 Z" fill="#D4ECF9"/><path d="M6 14.2 L7.5 12.6 H32.5 L34 14.2 L32.5 15.7 H7.5 Z" fill="#4A9FE0"/><path d="M9 12.6 H31 V27 Q31 30 28 30 H25 V32 Q25 33.7 23 33.7 H17 Q15 33.7 15 32 V30 H12 Q9 30 9 27 Z" fill="#5DAEE3"/><rect x="17" y="10.8" width="6" height="16" fill="#3673B8"/><circle cx="17.2" cy="27.3" r="3.2" fill="#2A5A9A"/><circle cx="22.8" cy="27.3" r="3.2" fill="#2A5A9A"/><path d="M14 27.3 H26 V29.5 Q26 31 24.5 31 H15.5 Q14 31 14 29.5 Z" fill="#2A5A9A"/><circle cx="13.3" cy="20.2" r="1" fill="#2A5A9A"/><circle cx="27" cy="20.2" r="1" fill="#2A5A9A"/><rect x="11.7" y="17" width="3" height="0.8" fill="#3A7BC0"/><rect x="25.6" y="17" width="3" height="0.8" fill="#3A7BC0"/></svg></div>
<div class="t lk" style="left:59px;top:9px"><span style="letter-spacing:-0.35px">Bruce Li</span></div>
<svg class="ab" style="left:26px;top:56px" width="13" height="9" viewBox="0 0 13 9"><path d="M1.2 1.5 L6.5 6.8 L11.8 1.5" stroke="#172B4D" stroke-width="2" fill="none"/></svg>
<div class="ab" style="left:44px;top:48px;width:20px;height:20px"><svg width="20" height="20" viewBox="0 0 20 20"><circle cx="10" cy="10" r="10" fill="#48C9C5"/><circle cx="9.8" cy="7.4" r="5" fill="#FFFFFF"/><path d="M2 9.8 Q2 7.4 4.3 7.2 L6.5 9.5 H13.1 L15.5 7.2 Q17.8 7.4 17.8 9.8 Q17.8 14.7 9.9 14.7 Q2 14.7 2 9.8 Z" fill="#7E4BC7"/><rect x="5.3" y="13.6" width="1.5" height="2.8" fill="#5A2E9E"/><rect x="13" y="13.6" width="1.5" height="2.8" fill="#5A2E9E"/><path d="M6.9 6.8 Q6.9 4 9.9 4 Q12.9 4 12.9 6.8 V11.9 H6.9 Z" fill="#5BA8E5"/><circle cx="9.9" cy="7.3" r="1.5" fill="#E3EEF9"/><circle cx="9.9" cy="7.3" r="0.7" fill="#3A5A8A"/></svg></div>
<div class="t lk" style="left:69px;top:48px">工时系统<span style="letter-spacing:-0.55px">(GS)</span></div>
<div class="ab" style="left:61px;top:91px;width:18px;height:18px"><svg width="18" height="18" viewBox="0 0 18 18"><rect width="18" height="18" rx="2" fill="#D04437"/><circle cx="9" cy="9" r="4.2" fill="#fff"/></svg></div>
<div class="t lk" style="left:85px;top:90px">上线</div>
<div class="t lk c" style="left:425px;width:100px;top:90px;letter-spacing:-0.6px">GS-3</div>
<div class="ab" style="left:544px;top:87px;width:62px;height:20px;background:#4A6486"></div>
<div class="t c" style="left:544px;width:62px;top:87px;color:#fff;font-weight:bold">需求等待</div>
<div class="t c num" style="left:620px;width:100px;top:81px">0/1</div>
<div class="t c num" style="left:620px;width:100px;top:101px">0</div>
<div class="t c num" style="left:721px;width:80px;top:81px">1</div>
<div class="t c num" style="left:721px;width:80px;top:101px">0</div>
<div class="ab" style="left:60px;top:130px;width:20px;height:20px"><svg width="20" height="20" viewBox="0 0 20 20"><rect width="20" height="20" rx="3" fill="#2684FF"/><path d="M4.5 10.2 L8.3 13.8 L15.5 6.2" stroke="#fff" stroke-width="2.6" fill="none"/></svg></div>
<div class="t lk" style="left:85px;top:130px">工时系统：<span style="letter-spacing:0.2px">ce'shi'd'hi'f'd'si'f's'd'f's'd'f'...</span></div>
<div class="t lk c" style="left:425px;width:100px;top:130px;letter-spacing:-0.6px">GS-10</div>
<div class="ab" style="left:544px;top:127px;width:62px;height:20px;background:#4A6486"></div>
<div class="t c" style="left:544px;width:62px;top:127px;color:#fff;font-weight:bold">需求等待</div>
<div class="t c num" style="left:620px;width:100px;top:121px">0/13</div>
<div class="t c num" style="left:620px;width:100px;top:141px">25</div>
<div class="t c num" style="left:721px;width:80px;top:121px">5</div>
<div class="t c num" style="left:721px;width:80px;top:141px">13</div>
<div class="ab" style="left:60px;top:170px;width:20px;height:20px"><svg width="20" height="20" viewBox="0 0 20 20"><rect width="20" height="20" rx="3" fill="#36B37E"/><path d="M6 4 H14 V16 L10 12.2 L6 16 Z" fill="#fff"/></svg></div>
<div class="t lk" style="left:85px;top:170px">工时系统：接口数据传输错误，接口数据错误</div>
<div class="t lk c" style="left:425px;width:100px;top:170px;letter-spacing:-0.6px">GS-12</div>
<div class="ab" style="left:544px;top:167px;width:62px;height:20px;background:#4A6486"></div>
<div class="t c" style="left:544px;width:62px;top:167px;color:#fff;font-weight:bold">需求等待</div>
<div class="t c num" style="left:620px;width:100px;top:161px">0/0</div>
<div class="t c num" style="left:620px;width:100px;top:181px">17</div>
<div class="t c num" style="left:721px;width:80px;top:161px">0</div>
<div class="t c num" style="left:721px;width:80px;top:181px">9</div>
<svg class="ab" style="left:26px;top:216px" width="13" height="9" viewBox="0 0 13 9"><path d="M1.2 1.5 L6.5 6.8 L11.8 1.5" stroke="#172B4D" stroke-width="2" fill="none"/></svg>
<div class="ab" style="left:44px;top:208px;width:20px;height:20px"><svg width="20" height="20" viewBox="0 0 20 20"><circle cx="10" cy="10" r="10" fill="#48C9C5"/><circle cx="9.8" cy="7.4" r="5" fill="#FFFFFF"/><path d="M2 9.8 Q2 7.4 4.3 7.2 L6.5 9.5 H13.1 L15.5 7.2 Q17.8 7.4 17.8 9.8 Q17.8 14.7 9.9 14.7 Q2 14.7 2 9.8 Z" fill="#7E4BC7"/><rect x="5.3" y="13.6" width="1.5" height="2.8" fill="#5A2E9E"/><rect x="13" y="13.6" width="1.5" height="2.8" fill="#5A2E9E"/><path d="M6.9 6.8 Q6.9 4 9.9 4 Q12.9 4 12.9 6.8 V11.9 H6.9 Z" fill="#5BA8E5"/><circle cx="9.9" cy="7.3" r="1.5" fill="#E3EEF9"/><circle cx="9.9" cy="7.3" r="0.7" fill="#3A5A8A"/></svg></div>
<div class="t lk" style="left:69px;top:208px">第三方插件<span style="letter-spacing:-0.55px">(CHAJIAN)</span></div>
<div class="ab" style="left:60px;top:250px;width:20px;height:20px"><svg width="20" height="20" viewBox="0 0 20 20"><rect width="20" height="20" rx="3" fill="#2684FF"/><path d="M4.5 10.2 L8.3 13.8 L15.5 6.2" stroke="#fff" stroke-width="2.6" fill="none"/></svg></div>
<div class="t lk" style="left:85px;top:250px">日历组件：工作报表日历组件，保存日期为过去日<span style="letter-spacing:-0.8px">...</span></div>
<div class="t lk c" style="left:425px;width:100px;top:250px;letter-spacing:-0.6px">CHAJIAN-3</div>
<div class="ab" style="left:544px;top:247px;width:62px;height:20px;background:#4A6486"></div>
<div class="t c" style="left:544px;width:62px;top:247px;color:#fff;font-weight:bold">需求等待</div>
<div class="t c num" style="left:620px;width:100px;top:241px">0/1</div>
<div class="t c num" style="left:620px;width:100px;top:261px">3</div>
<div class="t c num" style="left:721px;width:80px;top:241px">0</div>
<div class="t c num" style="left:721px;width:80px;top:261px">1</div>
<div class="ab" style="left:60px;top:290px;width:20px;height:20px"><svg width="20" height="20" viewBox="0 0 20 20"><rect width="20" height="20" rx="3" fill="#2684FF"/><path d="M4.5 10.2 L8.3 13.8 L15.5 6.2" stroke="#fff" stroke-width="2.6" fill="none"/></svg></div>
<div class="t lk" style="left:85px;top:290px">工时管理项目：接口错误</div>
<div class="t lk c" style="left:425px;width:100px;top:290px;letter-spacing:-0.6px">CHAJIAN-5</div>
<div class="ab" style="left:544px;top:287px;width:62px;height:20px;background:#4A6486"></div>
<div class="t c" style="left:544px;width:62px;top:287px;color:#fff;font-weight:bold">需求等待</div>
<div class="t c num" style="left:620px;width:100px;top:281px">0/1</div>
<div class="t c num" style="left:620px;width:100px;top:301px">3</div>
<div class="t c num" style="left:721px;width:80px;top:281px">0</div>
<div class="t c num" style="left:721px;width:80px;top:301px">0</div>
<div class="ab" style="left:60px;top:330px;width:20px;height:20px"><svg width="20" height="20" viewBox="0 0 20 20"><rect width="20" height="20" rx="3" fill="#2684FF"/><path d="M4.5 10.2 L8.3 13.8 L15.5 6.2" stroke="#fff" stroke-width="2.6" fill="none"/></svg></div>
<div class="t lk" style="left:85px;top:330px">日历组件：工作报表日历组件，保存日期为当前日<span style="letter-spacing:-0.8px">...</span></div>
<div class="t lk c" style="left:425px;width:100px;top:330px;letter-spacing:-0.6px">CHAJIAN-6</div>
<div class="ab" style="left:544px;top:327px;width:62px;height:20px;background:#4A6486"></div>
<div class="t c" style="left:544px;width:62px;top:327px;color:#fff;font-weight:bold">需求等待</div>
<div class="t c num" style="left:620px;width:100px;top:321px">0/2.5</div>
<div class="t c num" style="left:620px;width:100px;top:341px">11</div>
<div class="t c num" style="left:721px;width:80px;top:321px">1.5</div>
<div class="t c num" style="left:721px;width:80px;top:341px">5</div>
<svg class="ab" style="left:26px;top:376px" width="13" height="9" viewBox="0 0 13 9"><path d="M1.2 1.5 L6.5 6.8 L11.8 1.5" stroke="#172B4D" stroke-width="2" fill="none"/></svg>
<div class="ab" style="left:44px;top:368px;width:20px;height:20px"><svg width="20" height="20" viewBox="0 0 20 20"><circle cx="10" cy="10" r="10" fill="#48C9C5"/><circle cx="9.8" cy="7.4" r="5" fill="#FFFFFF"/><path d="M2 9.8 Q2 7.4 4.3 7.2 L6.5 9.5 H13.1 L15.5 7.2 Q17.8 7.4 17.8 9.8 Q17.8 14.7 9.9 14.7 Q2 14.7 2 9.8 Z" fill="#7E4BC7"/><rect x="5.3" y="13.6" width="1.5" height="2.8" fill="#5A2E9E"/><rect x="13" y="13.6" width="1.5" height="2.8" fill="#5A2E9E"/><path d="M6.9 6.8 Q6.9 4 9.9 4 Q12.9 4 12.9 6.8 V11.9 H6.9 Z" fill="#5BA8E5"/><circle cx="9.9" cy="7.3" r="1.5" fill="#E3EEF9"/><circle cx="9.9" cy="7.3" r="0.7" fill="#3A5A8A"/></svg></div>
<div class="t lk" style="left:69px;top:368px">工时成本项目<span style="letter-spacing:-0.55px">(GGG)</span></div>
<div class="ab" style="left:60px;top:410px;width:20px;height:20px"><svg width="20" height="20" viewBox="0 0 20 20"><rect width="20" height="20" rx="3" fill="#2684FF"/><path d="M4.5 10.2 L8.3 13.8 L15.5 6.2" stroke="#fff" stroke-width="2.6" fill="none"/></svg></div>
<div class="t lk" style="left:85px;top:410px">test project:this is my project</div>
<div class="t lk c" style="left:425px;width:100px;top:410px;letter-spacing:-0.6px">GGG-31</div>
<div class="ab" style="left:544px;top:407px;width:62px;height:20px;background:#4A6486"></div>
<div class="t c" style="left:544px;width:62px;top:407px;color:#fff;font-weight:bold">需求等待</div>
<div class="t c num" style="left:620px;width:100px;top:401px">0/0</div>
<div class="t c num" style="left:620px;width:100px;top:421px">9.5</div>
<div class="t c num" style="left:721px;width:80px;top:401px">0</div>
<div class="t c num" style="left:721px;width:80px;top:421px">1</div>
<div class="ab" style="left:60px;top:450px;width:20px;height:20px"><svg width="20" height="20" viewBox="0 0 20 20"><rect width="20" height="20" rx="3" fill="#2684FF"/><path d="M4.5 10.2 L8.3 13.8 L15.5 6.2" stroke="#fff" stroke-width="2.6" fill="none"/></svg></div>
<div class="t lk" style="left:85px;top:450px">工时成本项目：删除工作类型，刷新报表界面，名<span style="letter-spacing:-0.8px">...</span></div>
<div class="t lk c" style="left:425px;width:100px;top:450px;letter-spacing:-0.6px">GGG-36</div>
<div class="ab" style="left:544px;top:447px;width:62px;height:20px;background:#4A6486"></div>
<div class="t c" style="left:544px;width:62px;top:447px;color:#fff;font-weight:bold">需求等待</div>
<div class="t c num" style="left:620px;width:100px;top:441px">0/0</div>
<div class="t c num" style="left:620px;width:100px;top:461px">3</div>
<div class="t c num" style="left:721px;width:80px;top:441px">0</div>
<div class="t c num" style="left:721px;width:80px;top:461px">2</div>
<div class="ab" style="left:60px;top:490px;width:20px;height:20px"><svg width="20" height="20" viewBox="0 0 20 20"><rect width="20" height="20" rx="3" fill="#2684FF"/><path d="M4.5 10.2 L8.3 13.8 L15.5 6.2" stroke="#fff" stroke-width="2.6" fill="none"/></svg></div>
<div class="t lk" style="left:85px;top:490px">工时成本项目：自动化框架集成，自动生成项目 <span style="letter-spacing:-0.8px">...</span></div>
<div class="t lk c" style="left:425px;width:100px;top:490px;letter-spacing:-0.6px">GGG-37</div>
<div class="ab" style="left:544px;top:487px;width:62px;height:20px;background:#4A6486"></div>
<div class="t c" style="left:544px;width:62px;top:487px;color:#fff;font-weight:bold">需求等待</div>
<div class="t c num" style="left:620px;width:100px;top:481px">0/0</div>
<div class="t c num" style="left:620px;width:100px;top:501px">2</div>
<div class="t c num" style="left:721px;width:80px;top:481px">0</div>
<div class="t c num" style="left:721px;width:80px;top:501px">1</div>
<div class="ab" style="left:60px;top:530px;width:20px;height:20px"><svg width="20" height="20" viewBox="0 0 20 20"><rect width="20" height="20" rx="3" fill="#2684FF"/><path d="M4.5 10.2 L8.3 13.8 L15.5 6.2" stroke="#fff" stroke-width="2.6" fill="none"/></svg></div>
<div class="t lk" style="left:85px;top:530px">工时成本项目：接口测试，自动化测试工具，创建<span style="letter-spacing:-0.8px">...</span></div>
<div class="t lk c" style="left:425px;width:100px;top:530px;letter-spacing:-0.6px">GGG-38</div>
<div class="ab" style="left:544px;top:527px;width:62px;height:20px;background:#4A6486"></div>
<div class="t c" style="left:544px;width:62px;top:527px;color:#fff;font-weight:bold">需求等待</div>
<div class="t c num" style="left:620px;width:100px;top:521px">16/0</div>
<div class="t c num" style="left:620px;width:100px;top:541px">15.5</div>
<div class="t c num" style="left:721px;width:80px;top:521px">0</div>
<div class="t c num" style="left:721px;width:80px;top:541px">2.5</div>
<svg class="ab" style="left:26px;top:576px" width="13" height="9" viewBox="0 0 13 9"><path d="M1.2 1.5 L6.5 6.8 L11.8 1.5" stroke="#172B4D" stroke-width="2" fill="none"/></svg>
<div class="ab" style="left:44px;top:568px;width:20px;height:20px"><svg width="20" height="20" viewBox="0 0 20 20"><circle cx="10" cy="10" r="10" fill="#8B58D1"/><path d="M5.8 6.8 Q9.5 2.3 13.6 6.6" stroke="#FFFFFF" stroke-width="2.4" fill="none"/><path d="M11.3 8.6 L16.8 5.6 L16 12 Z" fill="#FFFFFF"/><path d="M14.2 13.2 Q10.5 17.7 6.4 13.4" stroke="#46CFC4" stroke-width="2.4" fill="none"/><path d="M8.7 11.4 L3.2 14.4 L4 8 Z" fill="#46CFC4"/></svg></div>
<div class="t lk" style="left:69px;top:568px">工时二期项目<span style="letter-spacing:-0.55px">(EQXM)</span></div>
<div class="ab" style="left:60px;top:610px;width:20px;height:20px"><svg width="20" height="20" viewBox="0 0 20 20"><rect width="20" height="20" rx="3" fill="#2684FF"/><path d="M4.5 10.2 L8.3 13.8 L15.5 6.2" stroke="#fff" stroke-width="2.6" fill="none"/></svg></div>
<div class="t lk" style="left:85px;top:610px">工时二期项目：自动化框架集成，自动生成项目 <span style="letter-spacing:-0.8px">...</span></div>
<div class="t lk c" style="left:425px;width:100px;top:610px;letter-spacing:-0.6px">EQXM-3</div>
<div class="ab" style="left:544px;top:607px;width:62px;height:20px;background:#4A6486"></div>
<div class="t c" style="left:544px;width:62px;top:607px;color:#fff;font-weight:bold">需求等待</div>
<div class="t c num" style="left:620px;width:100px;top:601px">0/2</div>
<div class="t c num" style="left:620px;width:100px;top:621px">1</div>
<div class="t c num" style="left:721px;width:80px;top:601px">0</div>
<div class="t c num" style="left:721px;width:80px;top:621px">1</div>
<svg class="ab" style="left:26px;top:656px" width="13" height="9" viewBox="0 0 13 9"><path d="M1.2 1.5 L6.5 6.8 L11.8 1.5" stroke="#172B4D" stroke-width="2" fill="none"/></svg>
<div class="ab" style="left:44px;top:648px;width:20px;height:20px"><svg width="20" height="20" viewBox="0 0 20 20"><circle cx="10" cy="10" r="10" fill="#48C9C5"/><circle cx="9.8" cy="7.4" r="5" fill="#FFFFFF"/><path d="M2 9.8 Q2 7.4 4.3 7.2 L6.5 9.5 H13.1 L15.5 7.2 Q17.8 7.4 17.8 9.8 Q17.8 14.7 9.9 14.7 Q2 14.7 2 9.8 Z" fill="#7E4BC7"/><rect x="5.3" y="13.6" width="1.5" height="2.8" fill="#5A2E9E"/><rect x="13" y="13.6" width="1.5" height="2.8" fill="#5A2E9E"/><path d="M6.9 6.8 Q6.9 4 9.9 4 Q12.9 4 12.9 6.8 V11.9 H6.9 Z" fill="#5BA8E5"/><circle cx="9.9" cy="7.3" r="1.5" fill="#E3EEF9"/><circle cx="9.9" cy="7.3" r="0.7" fill="#3A5A8A"/></svg></div>
<div class="t lk" style="left:69px;top:648px">性能测试项目<span style="letter-spacing:-0.55px">(XNCSXMGMY)</span></div>
</div>
</body></html>
